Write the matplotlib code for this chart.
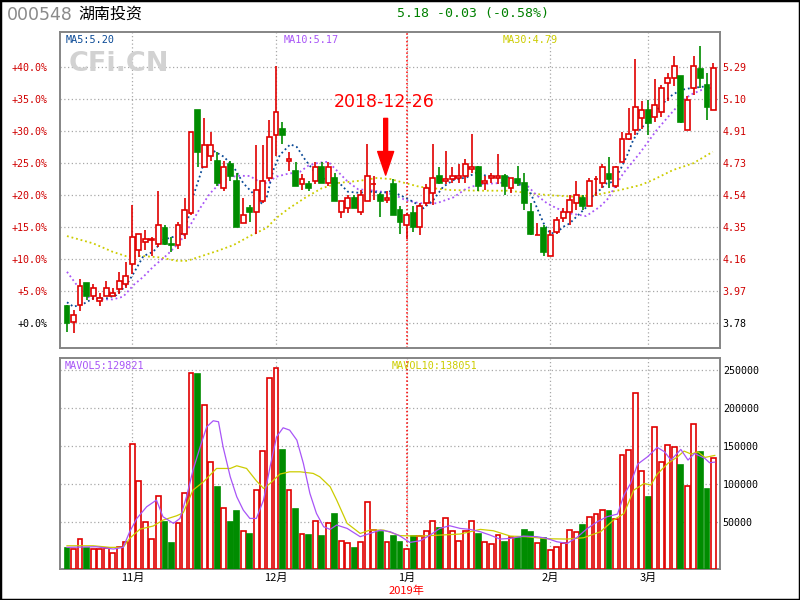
import matplotlib
matplotlib.use("Agg")
import matplotlib.pyplot as plt
from matplotlib.patches import Rectangle

# ----------------------------------------------------------------------------
# Data: 000548 daily bars, 2018-10-18 .. 2019-03-15 (index 0..99)
# ----------------------------------------------------------------------------

OPEN = [3.88, 3.79, 3.89, 4.02, 3.94, 3.91, 3.94, 3.94, 3.98, 4.01,
        4.13, 4.21, 4.26, 4.27, 4.25, 4.34, 4.25, 4.24, 4.31, 4.43,
        5.04, 4.70, 4.77, 4.74, 4.58, 4.72, 4.62, 4.37, 4.46, 4.44,
        4.50, 4.64, 4.89, 4.93, 4.74, 4.68, 4.60, 4.60, 4.62, 4.70,
        4.61, 4.64, 4.44, 4.46, 4.52, 4.44, 4.50, 4.60, 4.54, 4.51,
        4.60, 4.45, 4.36, 4.43, 4.35, 4.49, 4.55, 4.65, 4.62, 4.63,
        4.64, 4.65, 4.69, 4.70, 4.61, 4.64, 4.64, 4.65, 4.58, 4.63,
        4.61, 4.44, 4.30, 4.34, 4.18, 4.32, 4.40, 4.44, 4.49, 4.52,
        4.47, 4.63, 4.61, 4.66, 4.59, 4.73, 4.87, 4.92, 4.99, 5.04,
        5.00, 5.03, 5.20, 5.23, 5.24, 4.92, 5.17, 5.28, 5.19, 5.04]
HIGH = [3.89, 3.86, 4.04, 4.02, 4.01, 3.96, 4.03, 3.99, 4.08, 4.14,
        4.48, 4.31, 4.33, 4.29, 4.56, 4.36, 4.29, 4.38, 4.52, 4.91,
        5.04, 4.99, 4.91, 4.79, 4.74, 4.74, 4.67, 4.52, 4.48, 4.83,
        4.83, 4.98, 5.30, 4.97, 4.79, 4.73, 4.66, 4.62, 4.73, 4.73,
        4.73, 4.67, 4.50, 4.54, 4.54, 4.57, 4.84, 4.65, 4.55, 4.56,
        4.63, 4.47, 4.43, 4.47, 4.49, 4.60, 4.84, 4.70, 4.80, 4.70,
        4.72, 4.75, 4.90, 4.71, 4.65, 4.67, 4.78, 4.66, 4.64, 4.71,
        4.67, 4.49, 4.37, 4.36, 4.33, 4.41, 4.46, 4.54, 4.62, 4.54,
        4.64, 4.65, 4.72, 4.76, 4.71, 4.91, 5.05, 5.34, 5.09, 5.10,
        5.22, 5.19, 5.26, 5.36, 5.24, 5.12, 5.36, 5.42, 5.26, 5.32]
LOW = [3.73, 3.72, 3.85, 3.92, 3.92, 3.88, 3.94, 3.94, 3.95, 3.99,
       4.07, 4.17, 4.21, 4.18, 4.23, 4.24, 4.20, 4.22, 4.28, 4.42,
       4.70, 4.70, 4.74, 4.59, 4.56, 4.62, 4.35, 4.37, 4.38, 4.31,
       4.49, 4.62, 4.77, 4.84, 4.68, 4.59, 4.57, 4.56, 4.60, 4.61,
       4.59, 4.50, 4.40, 4.43, 4.46, 4.42, 4.50, 4.51, 4.41, 4.49,
       4.42, 4.31, 4.28, 4.32, 4.30, 4.47, 4.48, 4.60, 4.60, 4.61,
       4.61, 4.61, 4.67, 4.56, 4.57, 4.61, 4.60, 4.54, 4.55, 4.59,
       4.45, 4.30, 4.30, 4.18, 4.18, 4.31, 4.38, 4.36, 4.45, 4.45,
       4.47, 4.53, 4.58, 4.58, 4.58, 4.73, 4.86, 4.89, 4.93, 4.89,
       4.97, 5.00, 5.09, 5.18, 4.96, 4.92, 5.13, 5.17, 4.98, 5.04]
CLOSE = [3.78, 3.83, 4.00, 3.94, 3.99, 3.93, 3.99, 3.96, 4.03, 4.06,
         4.29, 4.31, 4.28, 4.28, 4.36, 4.25, 4.24, 4.36, 4.45, 4.91,
         4.79, 4.83, 4.83, 4.61, 4.70, 4.65, 4.35, 4.42, 4.44, 4.57,
         4.62, 4.88, 5.03, 4.89, 4.75, 4.59, 4.63, 4.58, 4.70, 4.61,
         4.70, 4.50, 4.50, 4.52, 4.46, 4.54, 4.65, 4.60, 4.50, 4.52,
         4.42, 4.38, 4.42, 4.35, 4.47, 4.58, 4.64, 4.61, 4.63, 4.65,
         4.65, 4.72, 4.70, 4.59, 4.62, 4.65, 4.65, 4.59, 4.64, 4.61,
         4.49, 4.31, 4.30, 4.20, 4.30, 4.39, 4.44, 4.51, 4.54, 4.47,
         4.62, 4.63, 4.70, 4.63, 4.70, 4.87, 4.90, 5.06, 5.04, 4.96,
         5.07, 5.17, 5.23, 5.30, 4.97, 5.10, 5.30, 5.23, 5.06, 5.29]
VOLUME = [16200, 14900, 27600, 16200, 14400, 14400, 15700, 9200, 17100, 23600,
          152200, 103700, 49900, 27600, 84000, 50300, 23200, 48600, 87900, 245400,
          244500, 203400, 128600, 96700, 68200, 50300, 64700, 38100, 35000, 91900,
          143500, 238800, 252000, 144800, 91900, 67400, 34600, 33200, 51200, 31900,
          49000, 60800, 24900, 22700, 16200, 24100, 76100, 39800, 37200, 24100,
          31900, 24100, 14400, 32400, 31900, 38100, 51200, 42400, 55100, 38100,
          24900, 38100, 51200, 34600, 23600, 21400, 32800, 24100, 30200, 29700,
          39800, 37200, 22300, 29700, 13100, 17100, 22300, 39400, 36700, 46400,
          56400, 60400, 65600, 64700, 53800, 137800, 144300, 219100, 116800, 83100,
          174500, 128600, 150900, 148300, 125100, 97100, 178500, 142200, 93600, 134300]

# moving averages (bar index, value)
MA5_X = [0, 1, 2.5, 4, 6, 7.6, 9.1, 10.2, 11.7, 13.2, 14.7, 16.3, 17.8, 18.8, 19.3,
         20.4, 21.4, 22.4, 24, 25.5, 27, 28.5, 29.8, 30.6, 31.6, 32.6, 34.2, 35.2,
         36.4, 37.7, 39, 40.5, 42, 43, 44.6, 46.7, 48.2, 49.6, 51, 53, 54.6, 56.1,
         57.6, 59.2, 61.2, 62.7, 64.3, 66.3, 67.8, 69.4, 70.9, 71.9, 73, 74, 75, 76,
         77, 77.5, 79.6, 80.6, 81.6, 82.6, 83.7, 84.7, 85.7, 86.7, 87.7, 89.3, 90.8,
         92.3, 93.9, 95.4, 96.9, 98, 99]
MA5_Y = [3.904, 3.878, 3.894, 3.927, 3.927, 3.947, 4.006, 4.075, 4.177, 4.202, 4.272,
         4.291, 4.311, 4.429, 4.527, 4.656, 4.784, 4.799, 4.764, 4.705, 4.607, 4.547,
         4.488, 4.527, 4.685, 4.774, 4.837, 4.821, 4.750, 4.685, 4.636, 4.626, 4.597,
         4.557, 4.551, 4.557, 4.551, 4.560, 4.537, 4.498, 4.459, 4.508, 4.586, 4.626,
         4.642, 4.669, 4.650, 4.642, 4.642, 4.596, 4.557, 4.468, 4.370, 4.311, 4.315,
         4.350, 4.370, 4.390, 4.468, 4.537, 4.567, 4.606, 4.616, 4.685, 4.764, 4.862,
         4.921, 4.990, 5.059, 5.118, 5.157, 5.168, 5.175, 5.180, 5.199]
MA10_X = [0, 1.5, 3, 5, 7, 8.6, 10.2, 11.7, 13.2, 15.3, 17.3, 18.8, 20.4, 21.9, 23.4,
          25, 26.5, 28, 29, 30.6, 32, 33.6, 35.7, 37, 38.5, 40, 41.5, 43, 44.6, 46.1,
          48.2, 50.2, 51.8, 54, 56.6, 59.2, 61.2, 63.2, 65.8, 68.3, 70.4, 71.9, 73.5,
          75, 77, 79.5, 81.6, 82.9, 83.6, 85.2, 87.7, 90.3, 92.3, 93.9, 95.4, 97.4, 99]
MA10_Y = [4.084, 4.006, 3.937, 3.921, 3.921, 3.937, 4.006, 4.055, 4.114, 4.183, 4.260,
          4.354, 4.461, 4.547, 4.606, 4.645, 4.651, 4.650, 4.626, 4.606, 4.645, 4.661,
          4.675, 4.712, 4.728, 4.734, 4.675, 4.616, 4.571, 4.567, 4.557, 4.537, 4.508,
          4.489, 4.489, 4.524, 4.577, 4.601, 4.607, 4.616, 4.596, 4.537, 4.489, 4.459,
          4.429, 4.413, 4.468, 4.518, 4.567, 4.666, 4.784, 4.921, 5.010, 5.079, 5.128,
          5.162, 5.172]
MA30_X = [0, 4, 7, 9, 11.7, 14.2, 16.8, 18.4, 20, 23, 25.5, 28, 30.6, 32, 34, 36.7,
          39, 41.8, 44.9, 47.4, 49.5, 51, 54, 58.7, 63, 67.8, 70.9, 74, 78, 81.6, 84.7,
          87.8, 89.7, 92.8, 95.9, 98.9]
MA30_Y = [4.295, 4.252, 4.202, 4.177, 4.177, 4.169, 4.149, 4.149, 4.169, 4.207, 4.242,
          4.295, 4.344, 4.400, 4.459, 4.527, 4.577, 4.610, 4.622, 4.638, 4.632, 4.616,
          4.586, 4.567, 4.563, 4.563, 4.547, 4.536, 4.527, 4.543, 4.567, 4.596, 4.626,
          4.685, 4.725, 4.793]

MAVOL5_X = [0, 4.5, 7.1, 8.6, 9.6, 10.7, 12.2, 13.7, 14.7, 16.3, 17.3, 18.3, 19.3, 20.4,
            21.4, 22.4, 23.2, 23.9, 25, 26, 27, 28, 29, 30.1, 31.1, 32.1, 33.1, 34.1,
            35.2, 36.2, 37.2, 38.2, 39.3, 40.3, 41.3, 42.9, 44.9, 46.4, 48, 49.5, 51,
            52.5, 54.1, 55.6, 57.1, 58.6, 60.2, 61.7, 63.3, 64.8, 66.3, 67.9, 69.9, 72,
            73.5, 75, 76.6, 78.1, 79.7, 81.2, 82.7, 84.3, 85.3, 86.3, 87.4, 88.9, 90.4,
            91.5, 92.5, 94, 95.1, 96.1, 97.7, 98.4, 99.2]
MAVOL5_Y = [17100, 17900, 14900, 17100, 37600, 55100, 70400, 79200, 57300, 48600, 55100,
            83500, 118500, 149200, 175400, 183300, 182000, 149200, 109800, 83500, 66000,
            55100, 55100, 79200, 122900, 162300, 174100, 171000, 157900, 127300, 87900,
            61700, 44200, 40700, 46400, 42000, 31100, 35400, 39800, 37600, 32000, 23600,
            25800, 33200, 42000, 45500, 42000, 40700, 37600, 33200, 28000, 28900, 31900,
            31100, 28900, 24500, 22300, 30200, 42000, 50700, 57300, 60800, 85700, 101000,
            126400, 136000, 148300, 142600, 131700, 145700, 131700, 140400, 133800,
            128200, 129000]
MAVOL10_X = [0, 4, 6.6, 8.6, 9.6, 11.2, 13.2, 14.7, 16.8, 17.8, 19.3, 20.9, 22.9, 25, 26,
             27.5, 29, 30.1, 31.1, 32.6, 34.1, 35.7, 37.7, 38.7, 40.3, 41.3, 42.9, 44.9,
             46.4, 48.5, 51, 54.1, 57.1, 60.2, 63.3, 65.3, 67.9, 70.4, 73.5, 76.6, 79.1,
             81.7, 83.7, 85.3, 86.8, 88.4, 89.4, 90.4, 92, 93.5, 94.5, 95.6, 96.6, 97.7,
             99.2]
MAVOL10_Y = [19200, 19200, 17100, 17100, 28900, 41100, 45100, 52900, 58600, 62500, 92300,
             103200, 120700, 120700, 124200, 120700, 104500, 94500, 101000, 113300,
             116300, 116300, 114200, 109800, 96700, 79200, 48600, 35400, 39800, 39800,
             32500, 31900, 33200, 34600, 40700, 38900, 31900, 31100, 28400, 28000, 29700,
             37600, 52900, 61700, 92300, 101000, 98900, 113300, 127300, 136000, 143500,
             139500, 142600, 135200, 137800]

BASE_PRICE = 3.78
PCT_TICKS = [0, 5, 10, 15, 20, 25, 30, 35, 40]
PCT_LABELS = ["+0.0%", "+5.0%", "+10.0%", "+15.0%", "+20.0%", "+25.0%",
              "+30.0%", "+35.0%", "+40.0%"]
PRICE_LABELS = ["3.78", "3.97", "4.16", "4.35", "4.54", "4.73", "4.91", "5.10", "5.29"]
VOL_TICKS = [50000, 100000, 150000, 200000, 250000]
MONTH_IDX = [10, 32, 52, 74, 89]
MONTH_LABELS = ["11月", "12月", "1月", "2月", "3月"]
YEAR_IDX = 52
MARK_IDX = 49  # 2018-12-26

RED = "#E00000"
GREEN = "#008C00"
C_MA5 = "#0B4A96"
C_MA10 = "#A855F7"
C_MA30 = "#CCCC00"
GRID = "#A8A8A8"
CJK = ["Noto Sans CJK SC", "DejaVu Sans"]
MONO = "DejaVu Sans Mono"

W, H = 800, 600
fig = plt.figure(figsize=(8, 6), dpi=100)
fig.patch.set_facecolor("white")


def fx(px):
    return px / W


def fy(py):
    return 1 - py / H


ax = fig.add_axes([fx(60), fy(348), fx(660), (348 - 31.7) / H])
axv = fig.add_axes([fx(60), fy(569), fx(660), (569 - 358) / H])

XLIM = (-1.07, 100.0)
PRICE_LIM = (3.634, 5.502)
VOL_LIM = (-11300, 265700)
BODY_W = 0.74

for a in (ax, axv):
    a.set_xlim(*XLIM)
    for s in a.spines.values():
        s.set_color("#858585")
        s.set_linewidth(1.4)
    a.set_xticks(MONTH_IDX)
    a.grid(True, color=GRID, linestyle=(0, (1, 2)), linewidth=0.9)
    a.set_axisbelow(True)
    a.axvline(YEAR_IDX, color="red", linestyle=(0, (1, 1.5)), linewidth=1.1, zorder=1)

# ---- price panel ------------------------------------------------------------
ax.set_ylim(*PRICE_LIM)
tick_prices = [BASE_PRICE * (1 + p / 100) for p in PCT_TICKS]
ax.set_yticks(tick_prices)
ax.set_yticklabels(PCT_LABELS, fontfamily=MONO, fontsize=7.2)
for lab in ax.get_yticklabels():
    lab.set_color("black" if lab.get_text() == "+0.0%" else "#D00000")
ax.tick_params(axis="y", length=0, pad=9)
ax.tick_params(axis="x", length=0, labelbottom=False)

axr = ax.twinx()
axr.set_ylim(*PRICE_LIM)
axr.set_yticks(tick_prices)
axr.set_yticklabels(PRICE_LABELS, fontfamily=MONO, fontsize=7.2)
for lab in axr.get_yticklabels():
    lab.set_color("black" if lab.get_text() == "3.78" else "#D00000")
axr.tick_params(axis="y", length=0, pad=2)
for s in axr.spines.values():
    s.set_visible(False)

ax.plot(MA30_X, MA30_Y, color=C_MA30, linestyle=(0, (1, 1.6)), linewidth=1.3, zorder=2)
ax.plot(MA10_X, MA10_Y, color=C_MA10, linestyle=(0, (1, 1.6)), linewidth=1.3, zorder=2)
ax.plot(MA5_X, MA5_Y, color=C_MA5, linestyle=(0, (1, 1.6)), linewidth=1.3, zorder=2)

for i, (o, h, l, c) in enumerate(zip(OPEN, HIGH, LOW, CLOSE)):
    up = c >= o
    col = RED if up else GREEN
    ax.vlines(i, l, h, color=col, linewidth=1.2, zorder=3)
    ax.add_patch(Rectangle((i - BODY_W / 2, min(o, c)), BODY_W, abs(c - o),
                           facecolor="white" if up else GREEN, edgecolor=col,
                           linewidth=1.2, zorder=4))

ax.text(0.008, 0.975, "MA5:5.20", transform=ax.transAxes, color=C_MA5,
        fontfamily=MONO, fontsize=7.3, va="center", ha="left")
ax.text(fx(284 - 60) / fx(660), 0.975, "MA10:5.17", transform=ax.transAxes,
        color=C_MA10, fontfamily=MONO, fontsize=7.3, va="center", ha="left")
ax.text(fx(503 - 60) / fx(660), 0.975, "MA30:4.79", transform=ax.transAxes,
        color=C_MA30, fontfamily=MONO, fontsize=7.3, va="center", ha="left")

fig.text(fx(69), fy(64), "CFi.CN", color="#D2D2D2", fontsize=19.5,
         fontweight="bold", family="DejaVu Sans", va="center", ha="left")

# 2018-12-26 marker
ax.annotate("", xy=(MARK_IDX - 0.2, 4.655), xytext=(MARK_IDX - 0.2, 4.99),
            arrowprops=dict(facecolor="red", edgecolor="red", width=2.8,
                            headwidth=11.5, headlength=17, shrink=0), zorder=6)
fig.text(fx(384), fy(102), "2018-12-26", color="red", fontsize=12.5,
         family="DejaVu Sans", va="center", ha="center")

# ---- volume panel -----------------------------------------------------------
axv.set_ylim(*VOL_LIM)
axv.set_yticks(VOL_TICKS)
axv.tick_params(axis="y", length=0, labelleft=False, labelright=True, pad=2,
                labelsize=7.2)
for lab in axv.get_yticklabels():
    lab.set_fontfamily(MONO)
axv.set_xticklabels(MONTH_LABELS, fontfamily=CJK, fontsize=8)
axv.tick_params(axis="x", length=0, pad=3)

for i, (o, c, v) in enumerate(zip(OPEN, CLOSE, VOLUME)):
    up = c >= o
    col = RED if up else GREEN
    axv.add_patch(Rectangle((i - BODY_W / 2, VOL_LIM[0]), BODY_W, v - VOL_LIM[0],
                            facecolor="white" if up else GREEN, edgecolor=col,
                            linewidth=1.2, zorder=3))

axv.plot(MAVOL10_X, MAVOL10_Y, color=C_MA30, linewidth=0.9, zorder=4)
axv.plot(MAVOL5_X, MAVOL5_Y, color=C_MA10, linewidth=0.9, zorder=4)

fig.text(fx(65), fy(366), "MAVOL5:129821", color=C_MA10, fontfamily=MONO,
         fontsize=7.3, va="center", ha="left")
fig.text(fx(392), fy(366), "MAVOL10:138051", color=C_MA30, fontfamily=MONO,
         fontsize=7.3, va="center", ha="left")
fig.text(fx(406), fy(591), "2019年", color="red", family=CJK, fontsize=8,
         va="center", ha="center")

# ---- header -----------------------------------------------------------------
fig.text(fx(7), fy(15), "000548", color="#8A8A8A", fontsize=12.5,
         family="DejaVu Sans", va="center", ha="left")
fig.text(fx(78), fy(14), "湖南投资", color="black", fontsize=11.5,
         family=CJK, va="center", ha="left")
fig.text(fx(397), fy(14), "5.18 -0.03 (-0.58%)", color="#008000", fontsize=9.5,
         family=MONO, va="center", ha="left")

fig.add_artist(Rectangle((0, 0), 1, 1, transform=fig.transFigure, fill=False,
                         edgecolor="black", linewidth=2.5))

fig.savefig("out.png", dpi=100, facecolor="white")
